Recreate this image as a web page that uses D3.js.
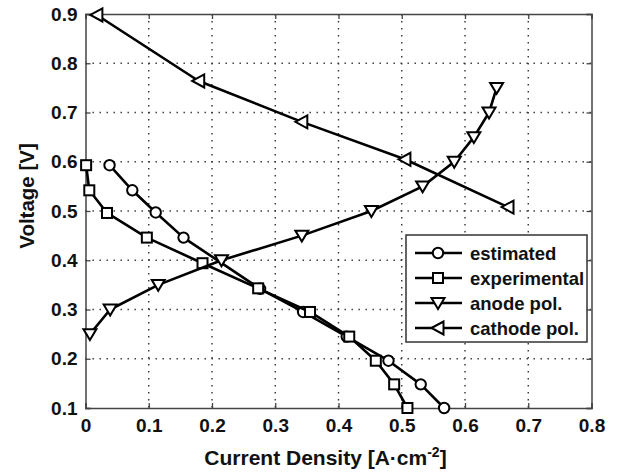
<!DOCTYPE html>
<html><head><meta charset="utf-8">
<script src="https://cdn.jsdelivr.net/npm/d3@7"></script>
<style>body{margin:0;background:#fff;} text{font-family:"Liberation Sans",Arial,sans-serif;font-weight:bold;}</style>
</head><body><svg id="c" width="619" height="475"></svg>
<script>
const xTicks = [0,0.1,0.2,0.3,0.4,0.5,0.6,0.7,0.8];
const yTicks = [0.1,0.2,0.3,0.4,0.5,0.6,0.7,0.8,0.9];
const seriesNames = ["estimated","experimental","anode pol.","cathode pol."];
const estX = [0.038,0.074,0.111,0.155,0.276,0.344,0.413,0.479,0.530,0.567];
const estY = [0.593,0.542,0.497,0.446,0.342,0.295,0.245,0.196,0.148,0.100];
const expX = [0.001,0.006,0.034,0.097,0.185,0.273,0.355,0.417,0.459,0.488,0.509];
const expY = [0.593,0.542,0.496,0.446,0.394,0.343,0.295,0.245,0.196,0.148,0.100];
const anoX = [0.007,0.039,0.115,0.215,0.342,0.452,0.533,0.583,0.614,0.638,0.650];
const anoY = [0.25,0.30,0.35,0.40,0.45,0.50,0.55,0.60,0.65,0.70,0.75];
const catX = [0.018,0.179,0.342,0.505,0.668];
const catY = [0.898,0.764,0.681,0.605,0.508];

const svg = d3.select("#c");
const L=85.5,R=591.5,T=14,B=408;
const x = d3.scaleLinear().domain([0,0.8]).range([L,R]);
const y = d3.scaleLinear().domain([0.1,0.9]).range([B,T]);

// grid
const g = svg.append("g");
g.selectAll(".vg").data(xTicks.slice(1,-1)).enter().append("line")
 .attr("x1",d=>x(d)).attr("x2",d=>x(d)).attr("y1",T).attr("y2",B)
 .attr("stroke","#333").attr("stroke-width",1.4).attr("stroke-dasharray","1.4,5.6");
g.selectAll(".hg").data(yTicks.slice(1,-1)).enter().append("line")
 .attr("y1",d=>y(d)).attr("y2",d=>y(d)).attr("x1",L).attr("x2",R)
 .attr("stroke","#333").attr("stroke-width",1.4).attr("stroke-dasharray","1.4,5.6");

// axes (inward ticks on all sides)
const fmt = d=> d===0 ? "0" : d3.format(".1f")(d);
const ax = svg.append("g").attr("transform",`translate(0,${B})`)
 .call(d3.axisBottom(x).tickValues(xTicks).tickSize(-5).tickPadding(11).tickFormat(fmt));
const axT = svg.append("g").attr("transform",`translate(0,${T})`)
 .call(d3.axisTop(x).tickValues(xTicks).tickSize(-5).tickFormat(""));
const ay = svg.append("g").attr("transform",`translate(${L},0)`)
 .call(d3.axisLeft(y).tickValues(yTicks).tickSize(-5).tickPadding(8).tickFormat(fmt));
const ayR = svg.append("g").attr("transform",`translate(${R},0)`)
 .call(d3.axisRight(y).tickValues(yTicks).tickSize(-5).tickFormat(""));
[ax,axT,ay,ayR].forEach(a=>{
  a.select(".domain").attr("stroke","#444").attr("stroke-width",1.5);
  a.selectAll(".tick line").attr("stroke","#444").attr("stroke-width",1.3);
  a.selectAll("text").attr("font-size",19).attr("fill","#111")
   .style("font-family","'Liberation Sans',Arial,sans-serif").style("font-weight","bold");
});

// axis titles
svg.append("text").attr("x",325.5).attr("y",465).attr("text-anchor","middle")
 .attr("font-size",21).attr("fill","#111")
 .html('Current Density [A·cm<tspan dy="-8" font-size="14">-2</tspan><tspan dy="8">]</tspan>');
svg.append("text").attr("transform","translate(34,196) rotate(-90)").attr("text-anchor","middle")
 .attr("font-size",20.5).attr("fill","#111").text("Voltage [V]");

// markers
function marker(sel, type){
  if(type==="circle") return sel.append("circle").attr("r",5.2);
  if(type==="square") return sel.append("rect").attr("x",-5).attr("y",-5).attr("width",10).attr("height",10);
  if(type==="down") return sel.append("path").attr("d",`M-6.5,-5L6.5,-5L0,6Z`);
  if(type==="left") return sel.append("path").attr("d",`M-6.5,0L5.5,-6.5L5.5,6.5Z`);
}
const series = [
 {name:seriesNames[0],xs:estX,ys:estY,m:"circle"},
 {name:seriesNames[1],xs:expX,ys:expY,m:"square"},
 {name:seriesNames[2],xs:anoX,ys:anoY,m:"down"},
 {name:seriesNames[3],xs:catX,ys:catY,m:"left"}
];
const line = d3.line().x(d=>x(d[0])).y(d=>y(d[1]));
series.forEach(s=>{
  const pts = s.xs.map((v,i)=>[v,s.ys[i]]);
  svg.append("path").datum(pts).attr("d",line).attr("fill","none")
   .attr("stroke","#000").attr("stroke-width",2.6).attr("stroke-linejoin","round");
  pts.forEach(p=>{
    const mg = svg.append("g").attr("transform",`translate(${x(p[0])},${y(p[1])})`);
    marker(mg,s.m).attr("fill","#fff").attr("stroke","#000").attr("stroke-width",2);
  });
});

// legend
const lg = svg.append("g");
lg.append("rect").attr("x",406).attr("y",235).attr("width",181).attr("height",107)
 .attr("fill","#fff").attr("stroke","#333").attr("stroke-width",1.5);
series.forEach((s,i)=>{
  const yy = 253 + i*25;
  lg.append("line").attr("x1",415).attr("x2",462).attr("y1",yy).attr("y2",yy)
   .attr("stroke","#000").attr("stroke-width",2.6);
  const mg = lg.append("g").attr("transform",`translate(438,${yy})`);
  marker(mg,s.m).attr("fill","#fff").attr("stroke","#000").attr("stroke-width",2);
  lg.append("text").attr("x",470).attr("y",yy+6.5).attr("font-size",18.5).attr("fill","#111").text(s.name);
});
</script></body></html>
